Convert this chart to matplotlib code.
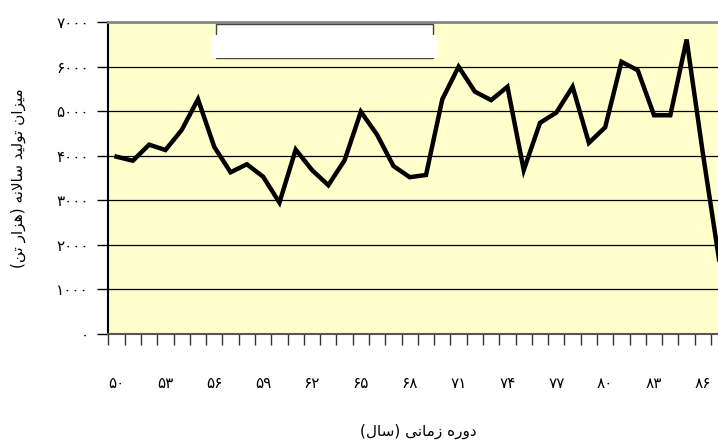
import numpy as np
import matplotlib.pyplot as plt
from matplotlib.patches import Rectangle

# annual production (thousand tonnes), years 1350..1387
years = list(range(50, 88))
production = [3980, 3890, 4250, 4130, 4580, 5270, 4200, 3630, 3810, 3530,
              2950, 4140, 3680, 3340, 3900, 4990, 4470, 3770, 3520, 3570,
              5270, 6000, 5440, 5250, 5550, 3680, 4740, 4970, 5550, 4290,
              4640, 6110, 5920, 4910, 4910, 6610, 4050, 1650]

fa_digits = str.maketrans('0123456789', '\u06f0\u06f1\u06f2\u06f3\u06f4\u06f5\u06f6\u06f7\u06f8\u06f9')

def fa(n):
    return str(n).translate(fa_digits)

# Persian labels, pre-shaped in visual order (matplotlib has no bidi/shaping)
xlabel = ('(\ufedd\ufe8e\ufeb3) '
          '\ufef0\ufee7\ufe8e\ufee3\ufeaf '
          '\ufee9\ufead\ufeed\ufea9')
ylabel = ('(\ufee6\ufe97 \ufead\ufe8d\ufeb0\ufeeb) '
          '\ufeea\ufee7\ufefb\ufe8e\ufeb3 '
          '\ufeaa\ufef4\ufedf\ufeee\ufe97 '
          '\ufee5\ufe8d\ufeb0\ufef4\ufee3')

plt.rcParams['font.family'] = ['DejaVu Sans']

fig = plt.figure(figsize=(7.18, 4.43), dpi=100)
ax = fig.add_axes([0.151, 0.246, 0.862, 0.704])
ax.set_facecolor('#FFFFCC')

x = np.arange(len(years))
ax.plot(x, production, color='black', lw=3.2, solid_joinstyle='miter', zorder=3)

ax.set_xlim(-0.5, len(years) - 0.5)
ax.set_ylim(0, 7000)

yt = np.arange(0, 7001, 1000)
ax.set_yticks(yt)
ax.set_yticklabels([fa(v) for v in yt], fontsize=11)
ax.yaxis.grid(True, color='black', lw=0.9)
ax.set_axisbelow(True)

lab_idx = list(range(0, len(years), 3))
ax.set_xticks(lab_idx)
ax.set_xticklabels([fa(years[i]) for i in lab_idx], fontsize=11)
ax.tick_params(axis='x', which='major', length=0, pad=30)
ax.set_xticks(np.arange(-0.5, len(years)), minor=True)
ax.tick_params(axis='x', which='minor', length=8, width=1, color='#333333')
ax.tick_params(axis='y', length=8, width=1, pad=6)

ax.spines['right'].set_visible(False)
ax.spines['top'].set_color('#888888')
ax.spines['top'].set_linewidth(2)
ax.spines['left'].set_linewidth(1.5)
ax.spines['bottom'].set_color('#555555')
ax.spines['bottom'].set_linewidth(1.5)

ax.set_xlabel(xlabel, fontsize=11, labelpad=24)
ax.set_ylabel(ylabel, fontsize=11, labelpad=22)

# legend box (text blanked out in the original)
fig.patches.append(Rectangle((216 / 718, 1 - 58 / 443), 217 / 718, 34 / 443,
                             transform=fig.transFigure, facecolor='white',
                             edgecolor='#444444', lw=1, zorder=5))
fig.patches.append(Rectangle((212 / 718, 1 - 57.5 / 443), 226 / 718, 22.5 / 443,
                             transform=fig.transFigure, facecolor='white',
                             edgecolor='none', zorder=6))

fig.savefig('out.png', dpi=100)
